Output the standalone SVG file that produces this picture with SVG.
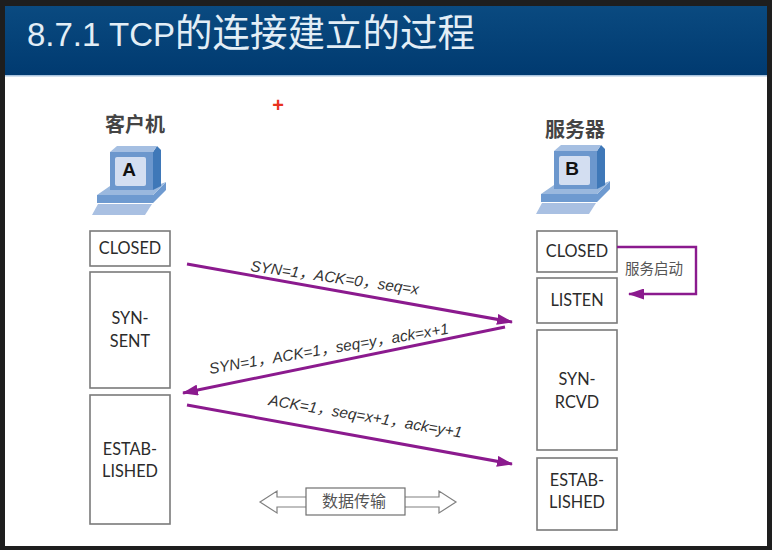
<svg xmlns="http://www.w3.org/2000/svg" width="772" height="550" viewBox="0 0 772 550">
<style>
text{font-family:"Lato","Liberation Sans","Noto Sans CJK SC",sans-serif;fill:#2b2b2b}
.st{fill:#fff;stroke:#7a7a7a;stroke-width:1.6}
.lb{font-size:16.3px;text-anchor:middle}
.cn{font-family:"Noto Sans CJK SC",sans-serif;font-weight:700;font-size:20px;text-anchor:middle;fill:#444}
.msg{font-size:15.3px;font-style:italic;font-family:"Liberation Sans","Noto Sans CJK SC",sans-serif;fill:#333}
.ar{fill:none;stroke:#8b1a8e;stroke-width:3}
.ltr{font-size:19px;font-weight:700;fill:#111;font-family:"Liberation Sans",sans-serif;text-anchor:middle}
</style>
<defs>
<marker id="ah" viewBox="0 0 16 11" refX="15" refY="5.5" markerWidth="16" markerHeight="11" markerUnits="userSpaceOnUse" orient="auto"><path d="M0 0L16 5.5L0 11Z" fill="#8b1a8e"/></marker>
<linearGradient id="hd" x1="0" y1="0" x2="0" y2="1"><stop offset="0" stop-color="#0a4a80"/><stop offset="1" stop-color="#003a70"/></linearGradient>
<g id="pc">
<path d="M98 204L152 204L145 215L92 215Z" fill="#a9c0e2"/>
<path d="M97 195L153 195L166 182L166 190L153 203L97 203Z" fill="#6e9ad0"/>
<path d="M97 195L110 186L155 186L166 182L153 195Z" fill="#9ab8de"/>
<path d="M153 152L157 146L161 150L161 186L153 190Z" fill="#3f78b8"/>
<path d="M110 152L117 146L157 146L153 152Z" fill="#a5bfe2"/>
<rect x="110" y="152" width="43" height="38" fill="#6c97cd"/>
<rect x="115" y="157" width="31" height="29" rx="2" fill="#d3deF1"/>
</g>
</defs>
<rect width="772" height="550" fill="#1e1e1e"/>
<rect x="5" y="6" width="762" height="540" fill="#fff"/>
<g id="header">
<rect x="5" y="6" width="762" height="70" fill="url(#hd)"/>
<rect x="5" y="75" width="762" height="1.5" fill="#a9c4de"/>
<text x="27" y="46" style="font-size:33px;fill:#e3eef6;font-family:'Liberation Sans','Noto Sans CJK SC',sans-serif">8.7.1 TCP<tspan style="font-size:37.5px;font-family:'Noto Sans CJK SC',sans-serif;fill:#e3eef6">的连接建立的过程</tspan></text>
</g>
<text id="plus" x="278" y="112" style="font-size:20px;font-weight:700;fill:#e8321e;font-family:'Liberation Sans',sans-serif" text-anchor="middle">+</text>
<g id="client">
<text class="cn" x="135" y="132">客户机</text>
<use href="#pc"/>
<text class="ltr" x="129" y="176">A</text>
</g>
<g id="server">
<text class="cn" x="575" y="137">服务器</text>
<use href="#pc" x="444" y="-1"/>
<text class="ltr" x="572" y="175">B</text>
</g>
<g id="c-closed"><rect class="st" x="90" y="231" width="80" height="35"/><text class="lb" x="130" y="254">CLOSED</text></g>
<g id="c-synsent"><rect class="st" x="90" y="272" width="80" height="116"/><text class="lb" x="130" y="324">SYN-</text><text class="lb" x="130" y="347">SENT</text></g>
<g id="c-estab"><rect class="st" x="90" y="395" width="80" height="129"/><text class="lb" x="130" y="455">ESTAB-</text><text class="lb" x="130" y="477">LISHED</text></g>
<g id="s-closed"><rect class="st" x="537" y="231" width="80" height="41"/><text class="lb" x="577" y="257">CLOSED</text></g>
<g id="s-listen"><rect class="st" x="537" y="278" width="80" height="45"/><text class="lb" x="577" y="306">LISTEN</text></g>
<g id="s-synrcvd"><rect class="st" x="537" y="330" width="80" height="120"/><text class="lb" x="577" y="385">SYN-</text><text class="lb" x="577" y="408">RCVD</text></g>
<g id="s-estab"><rect class="st" x="537" y="458" width="80" height="72"/><text class="lb" x="577" y="486">ESTAB-</text><text class="lb" x="577" y="508">LISHED</text></g>
<g id="connectors">
<path class="ar" d="M187 264L512 322" marker-end="url(#ah)"/>
<path class="ar" d="M505 327L183 393" marker-end="url(#ah)"/>
<path class="ar" d="M187 405L512 464" marker-end="url(#ah)"/>
<path d="M617 247L696 247L696 294L629 294" fill="none" stroke="#8b1a8e" stroke-width="2.4" marker-end="url(#ah)"/>
<path d="M306 497L277 497L277 491L260 502L277 513L277 507L306 507M405 497L439 497L439 491L456 502L439 513L439 507L405 507" fill="#fff" stroke="#808080" stroke-width="1.2"/>
</g>
<g id="labels">
<text class="msg" transform="translate(250 271) rotate(8)">SYN=1，ACK=0，seq=x</text>
<text class="msg" transform="translate(210 374) rotate(-9.6)">SYN=1，ACK=1，seq=y，ack=x+1</text>
<text class="msg" transform="translate(268 405) rotate(9.6)">ACK=1，seq=x+1，ack=y+1</text>
<text x="625" y="274" style="font-size:14.5px;fill:#555;font-family:'Noto Sans CJK SC',sans-serif">服务启动</text>
</g>
<g id="transfer"><rect x="306" y="488" width="99" height="27" fill="#fff" stroke="#707070" stroke-width="1.2"/><text x="354" y="507" style="font-size:16px;fill:#555;font-family:'Noto Sans CJK SC',sans-serif" text-anchor="middle">数据传输</text></g>
</svg>
